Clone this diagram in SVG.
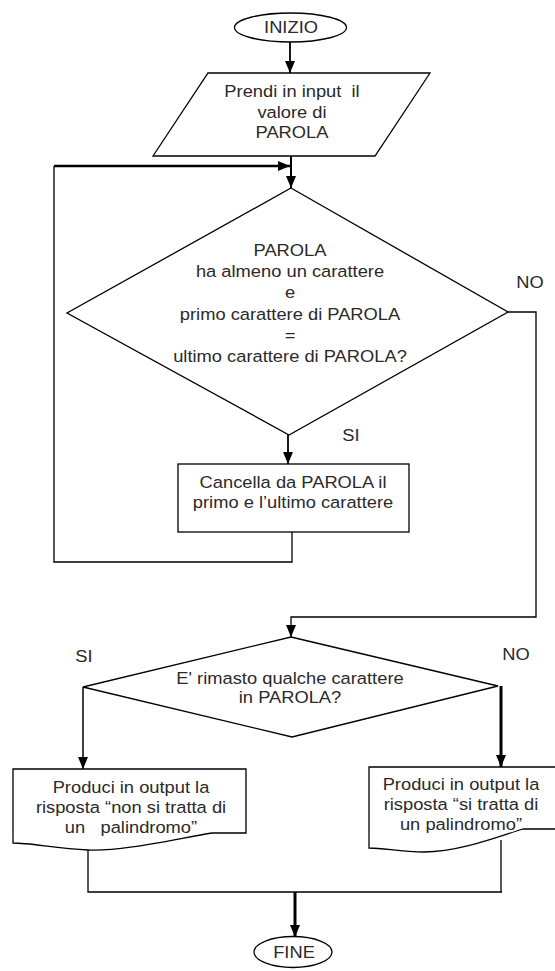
<svg xmlns="http://www.w3.org/2000/svg" width="555" height="971" viewBox="0 0 555 971">
<defs>
<marker id="arr" markerUnits="userSpaceOnUse" markerWidth="12" markerHeight="10" refX="12" refY="5" orient="auto">
<path d="M0,0 L12,5 L0,10 z" fill="#000"/>
</marker>
<style>
.s{fill:#fff;stroke:#000;stroke-width:1.3}
.c{fill:none;stroke:#000;stroke-width:1.3}
.b{fill:none;stroke:#000;stroke-width:2.6}
.t{font-family:"Liberation Sans",Arial,sans-serif;font-size:16.5px;fill:#2a2a2a;text-anchor:middle;white-space:pre}
</style>
</defs>
<rect width="555" height="971" fill="#fff"/>
<g id="connectors">
<path class="c" d="M290,42 V73" marker-end="url(#arr)" style="stroke-width:1.8"/>
<path class="b" d="M291,156 V188" marker-end="url(#arr)" style="stroke-width:2"/>
<path class="c" d="M292,532 V562 H54 V166"/>
<path class="b" d="M54,166 H290" marker-end="url(#arr)"/>
<path class="c" d="M288,435 V464" marker-end="url(#arr)" style="stroke-width:1.8"/>
<path class="c" d="M508,312 H536 V617 H291 V637" marker-end="url(#arr)"/>
<path class="c" d="M83,687 V769" marker-end="url(#arr)" style="stroke-width:1.5"/>
<path class="b" d="M501,686 V767" marker-end="url(#arr)" style="stroke-width:3"/>
<path class="c" d="M88,850 V892 H502 M501,840 V892"/>
<path class="b" d="M295,892 V937" marker-end="url(#arr)" style="stroke-width:3"/>
<text class="t" transform="translate(351,0) scale(1.11,1)" x="0" y="441">SI</text>
<text class="t" transform="translate(530,0) scale(1.11,1)" x="0" y="288">NO</text>
<text class="t" transform="translate(84,0) scale(1.11,1)" x="0" y="662">SI</text>
<text class="t" transform="translate(516,0) scale(1.11,1)" x="0" y="660">NO</text>
</g>
<g id="inizio">
<ellipse class="s" cx="290.5" cy="27.5" rx="56" ry="14.5"/>
<text class="t" transform="translate(291,0) scale(1.11,1)" x="0" y="33">INIZIO</text>
</g>
<g id="input">
<polygon class="s" points="208,73 430,73 375,156 153,156"/>
<text class="t" transform="translate(292,0) scale(1.11,1)"><tspan x="0" y="97">Prendi in input  il</tspan><tspan x="0" y="118">valore di</tspan><tspan x="0" y="138.5">PAROLA</tspan></text>
</g>
<g id="decision1">
<polygon class="s" points="291,188 508,312 289,435 67,313"/>
<text class="t" transform="translate(290,0) scale(1.11,1)"><tspan x="0" y="256">PAROLA</tspan><tspan x="0" y="277">ha almeno un carattere</tspan><tspan x="0" y="298.5">e</tspan><tspan x="0" y="320">primo carattere di PAROLA</tspan><tspan x="0" y="341">=</tspan><tspan x="0" y="362">ultimo carattere di PAROLA?</tspan></text>
</g>
<g id="cancel">
<rect class="s" x="178" y="464" width="231" height="68"/>
<text class="t" transform="translate(293,0) scale(1.11,1)"><tspan x="0" y="488">Cancella da PAROLA il</tspan><tspan x="0" y="508">primo e l’ultimo carattere</tspan></text>
</g>
<g id="decision2">
<polygon class="s" points="291,637 498,686 292,737 83,687"/>
<text class="t" transform="translate(290,0) scale(1.11,1)"><tspan x="0" y="684">E' rimasto qualche carattere</tspan><tspan x="0" y="703">in PAROLA?</tspan></text>
</g>
<g id="out-no">
<path class="s" d="M13,769 H246 V833 H212 C180,838 120,852 88,850 C55,848 30,843 13,843 Z"/>
<text class="t" transform="translate(131,0) scale(1.11,1)"><tspan x="0" y="793">Produci in output la</tspan><tspan x="0" y="813">risposta “non si tratta di</tspan><tspan x="0" y="833">un   palindromo”</tspan></text>
</g>
<g id="out-yes">
<path class="s" d="M369,767 H560 V829 H523 C500,836 460,852 424,852 C400,852 385,848 369,848 Z"/>
<text class="t" transform="translate(461,0) scale(1.11,1)"><tspan x="0" y="790">Produci in output la</tspan><tspan x="0" y="810">risposta “si tratta di</tspan><tspan x="0" y="830">un palindromo”</tspan></text>
</g>
<g id="fine">
<ellipse class="s" cx="293" cy="952" rx="39" ry="15.5"/>
<text class="t" transform="translate(294,0) scale(1.11,1)" x="0" y="958">FINE</text>
</g>
</svg>
